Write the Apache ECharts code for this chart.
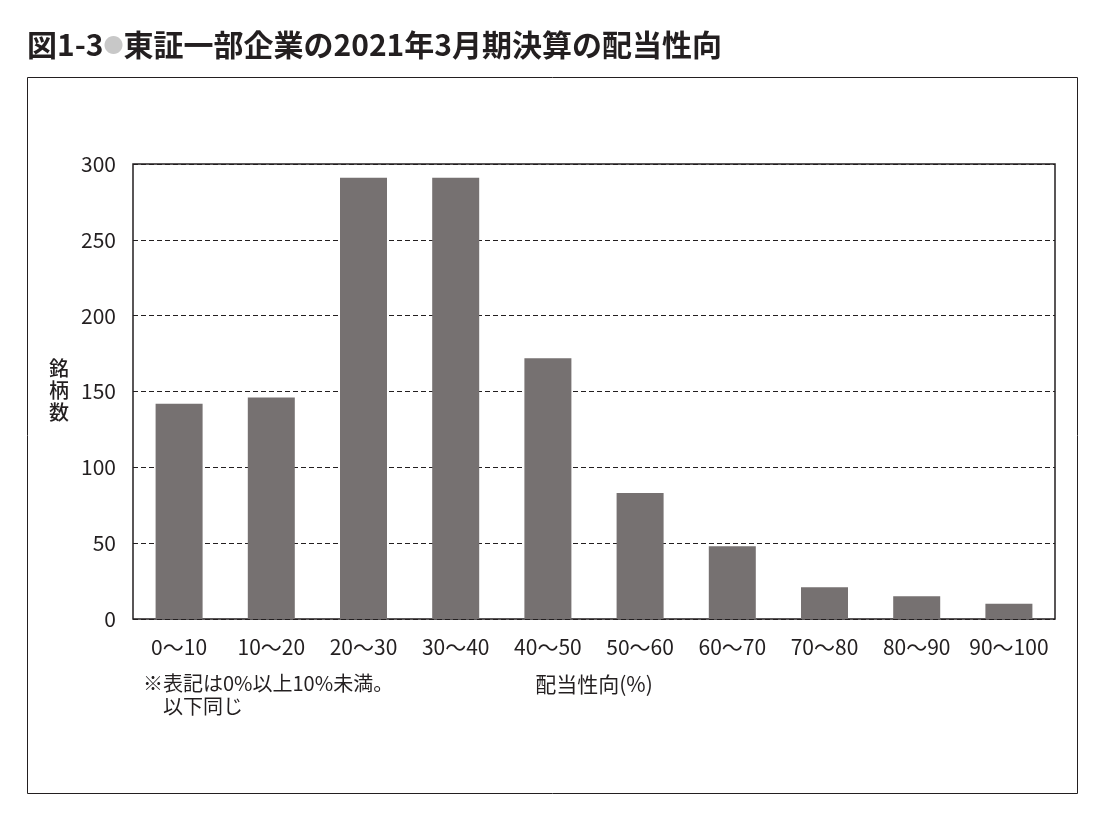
<!DOCTYPE html>
<html><head><meta charset="utf-8">
<script src="https://cdn.jsdelivr.net/npm/echarts@6/dist/echarts.min.js"></script>
<style>html,body{margin:0;padding:0;background:#fff}#c{width:1106px;height:820px}</style>
</head><body><div id="c"></div>
<script>
const categories = ['0～10','10～20','20～30','30～40','40～50','50～60','60～70','70～80','80～90','90～100'];
const counts = [142, 146, 291, 291, 172, 83, 48, 21, 15, 10];
const yTicks = {min: 0, max: 300, interval: 50};
const titleText = '東証一部企業の2021年3月期決算の配当性向';
const FONT = '"Noto Sans CJK JP","Noto Sans",sans-serif';
const INK = '#231f20';
const chart = echarts.init(document.getElementById('c'));
chart.setOption({
  animation: false,
  backgroundColor: '#fff',
  textStyle: {fontFamily: FONT, color: INK},
  grid: {left: 133, right: 51, top: 164, bottom: 201, show: true, borderColor: INK, borderWidth: 1.5, backgroundColor: 'transparent'},
  xAxis: {
    type: 'category', data: categories,
    axisLine: {show: false}, axisTick: {show: false},
    axisLabel: {fontSize: 21, color: INK, margin: 18, interval: 0, fontFamily: FONT},
    name: '配当性向(%)', nameLocation: 'middle', nameGap: 55,
    nameTextStyle: {fontSize: 21, color: INK, fontFamily: FONT}
  },
  yAxis: {
    type: 'value', min: yTicks.min, max: yTicks.max, interval: yTicks.interval,
    axisLine: {show: false}, axisTick: {show: false},
    axisLabel: {fontSize: 21, color: INK, margin: 17, fontFamily: FONT},
    splitLine: {show: true, lineStyle: {type: [5, 3], color: INK, width: 1}}
  },
  series: [{
    type: 'bar', data: counts, barWidth: 47,
    itemStyle: {color: '#767171'}
  }],
  graphic: [
    {type: 'rect', shape: {x: 27.5, y: 77.5, width: 1050, height: 716}, style: {fill: 'none', stroke: INK, lineWidth: 1}, silent: true},
    {type: 'text', left: 27, top: 30, style: {rich: {
        a: {fontSize: 30, fontWeight: 'bold', fill: INK, fontFamily: FONT},
        b: {fontSize: 20, fill: '#c8c8c8', fontFamily: FONT}
      }, text: '{a|図1-3}{b|●}{a|' + titleText + '}'}},
    {type: 'text', left: 49, top: 357, style: {text: '銘\n柄\n数', fontSize: 20, lineHeight: 22, fill: INK, fontFamily: FONT, fontWeight: 500}},
    {type: 'text', left: 143, top: 672, style: {text: '※表記は0%以上10%未満。\n　以下同じ', fontSize: 20, lineHeight: 23, fill: INK, fontFamily: FONT}}
  ]
});
</script></body></html>
